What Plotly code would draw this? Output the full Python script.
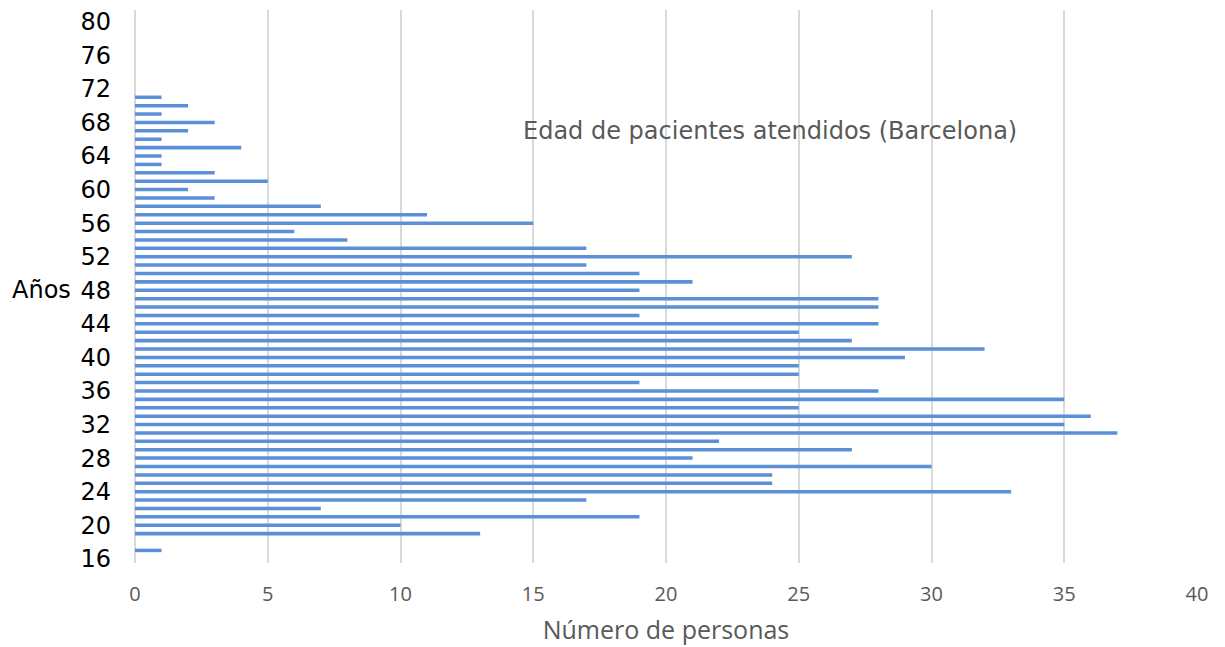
import plotly.graph_objects as go

ages = [17, 19, 20, 21, 22, 23, 24, 25, 26, 27, 28, 29, 30, 31, 32, 33, 34, 35, 36, 37,
        38, 39, 40, 41, 42, 43, 44, 45, 46, 47, 48, 49, 50, 51, 52, 53, 54, 55, 56, 57,
        58, 59, 60, 61, 62, 63, 64, 65, 66, 67, 68, 69, 70, 71]
personas = [1, 13, 10, 19, 7, 17, 33, 24, 24, 30, 21, 27, 22, 37, 35, 36, 25, 35, 28, 19,
            25, 25, 29, 32, 27, 25, 28, 19, 28, 28, 19, 21, 19, 17, 27, 17, 8, 6, 15, 11,
            7, 3, 2, 5, 3, 1, 1, 4, 1, 2, 3, 1, 2, 1]
y_ticks = list(range(16, 81, 4))
x_ticks = [0, 5, 10, 15, 20, 25, 30, 35, 40]

titulo = "Edad de pacientes atendidos (Barcelona)"
x_titulo = "Número de personas"
y_titulo = "Años"

fig = go.Figure()
fig.add_trace(go.Bar(
    x=personas, y=ages, orientation="h",
    marker=dict(color="#5b8fd6", line=dict(width=0)),
    width=0.42,
))

fig.update_layout(
    width=1225, height=647,
    margin=dict(l=127, r=36, t=2, b=92),
    paper_bgcolor="white", plot_bgcolor="white",
    showlegend=False,
    font=dict(family="DejaVu Sans", color="#000000"),
    annotations=[
        dict(text=titulo, xref="paper", yref="paper", x=0.598, y=0.781,
             showarrow=False, xanchor="center", yanchor="middle",
             font=dict(family="DejaVu Sans", size=24, color="#595959")),
        dict(text=y_titulo, xref="paper", yref="paper", x=-0.0885, y=0.494,
             showarrow=False, xanchor="center", yanchor="middle",
             font=dict(family="DejaVu Sans", size=24, color="#000000")),
    ],
)

fig.update_xaxes(
    range=[0, 40], tickvals=x_ticks, ticktext=[str(v) for v in x_ticks],
    showgrid=True, gridcolor="#d9d9d9", gridwidth=1.5,
    zeroline=True, zerolinecolor="#d9d9d9", zerolinewidth=1.5,
    showline=False, ticks="", automargin=False,
    tickfont=dict(family="Open Sans", size=20, color="#595959"),
    ticklabelstandoff=17,
    title=dict(text=x_titulo, font=dict(family="Open Sans", size=25, color="#595959"), standoff=15),
)
fig.update_yaxes(
    range=[15.5, 81.4], tickvals=y_ticks, ticktext=[str(v) for v in y_ticks],
    showgrid=False, zeroline=False, showline=False, ticks="", automargin=False,
    tickfont=dict(family="DejaVu Sans", size=24, color="#000000"),
    ticklabelstandoff=23,
)

fig.write_html("out.html")
